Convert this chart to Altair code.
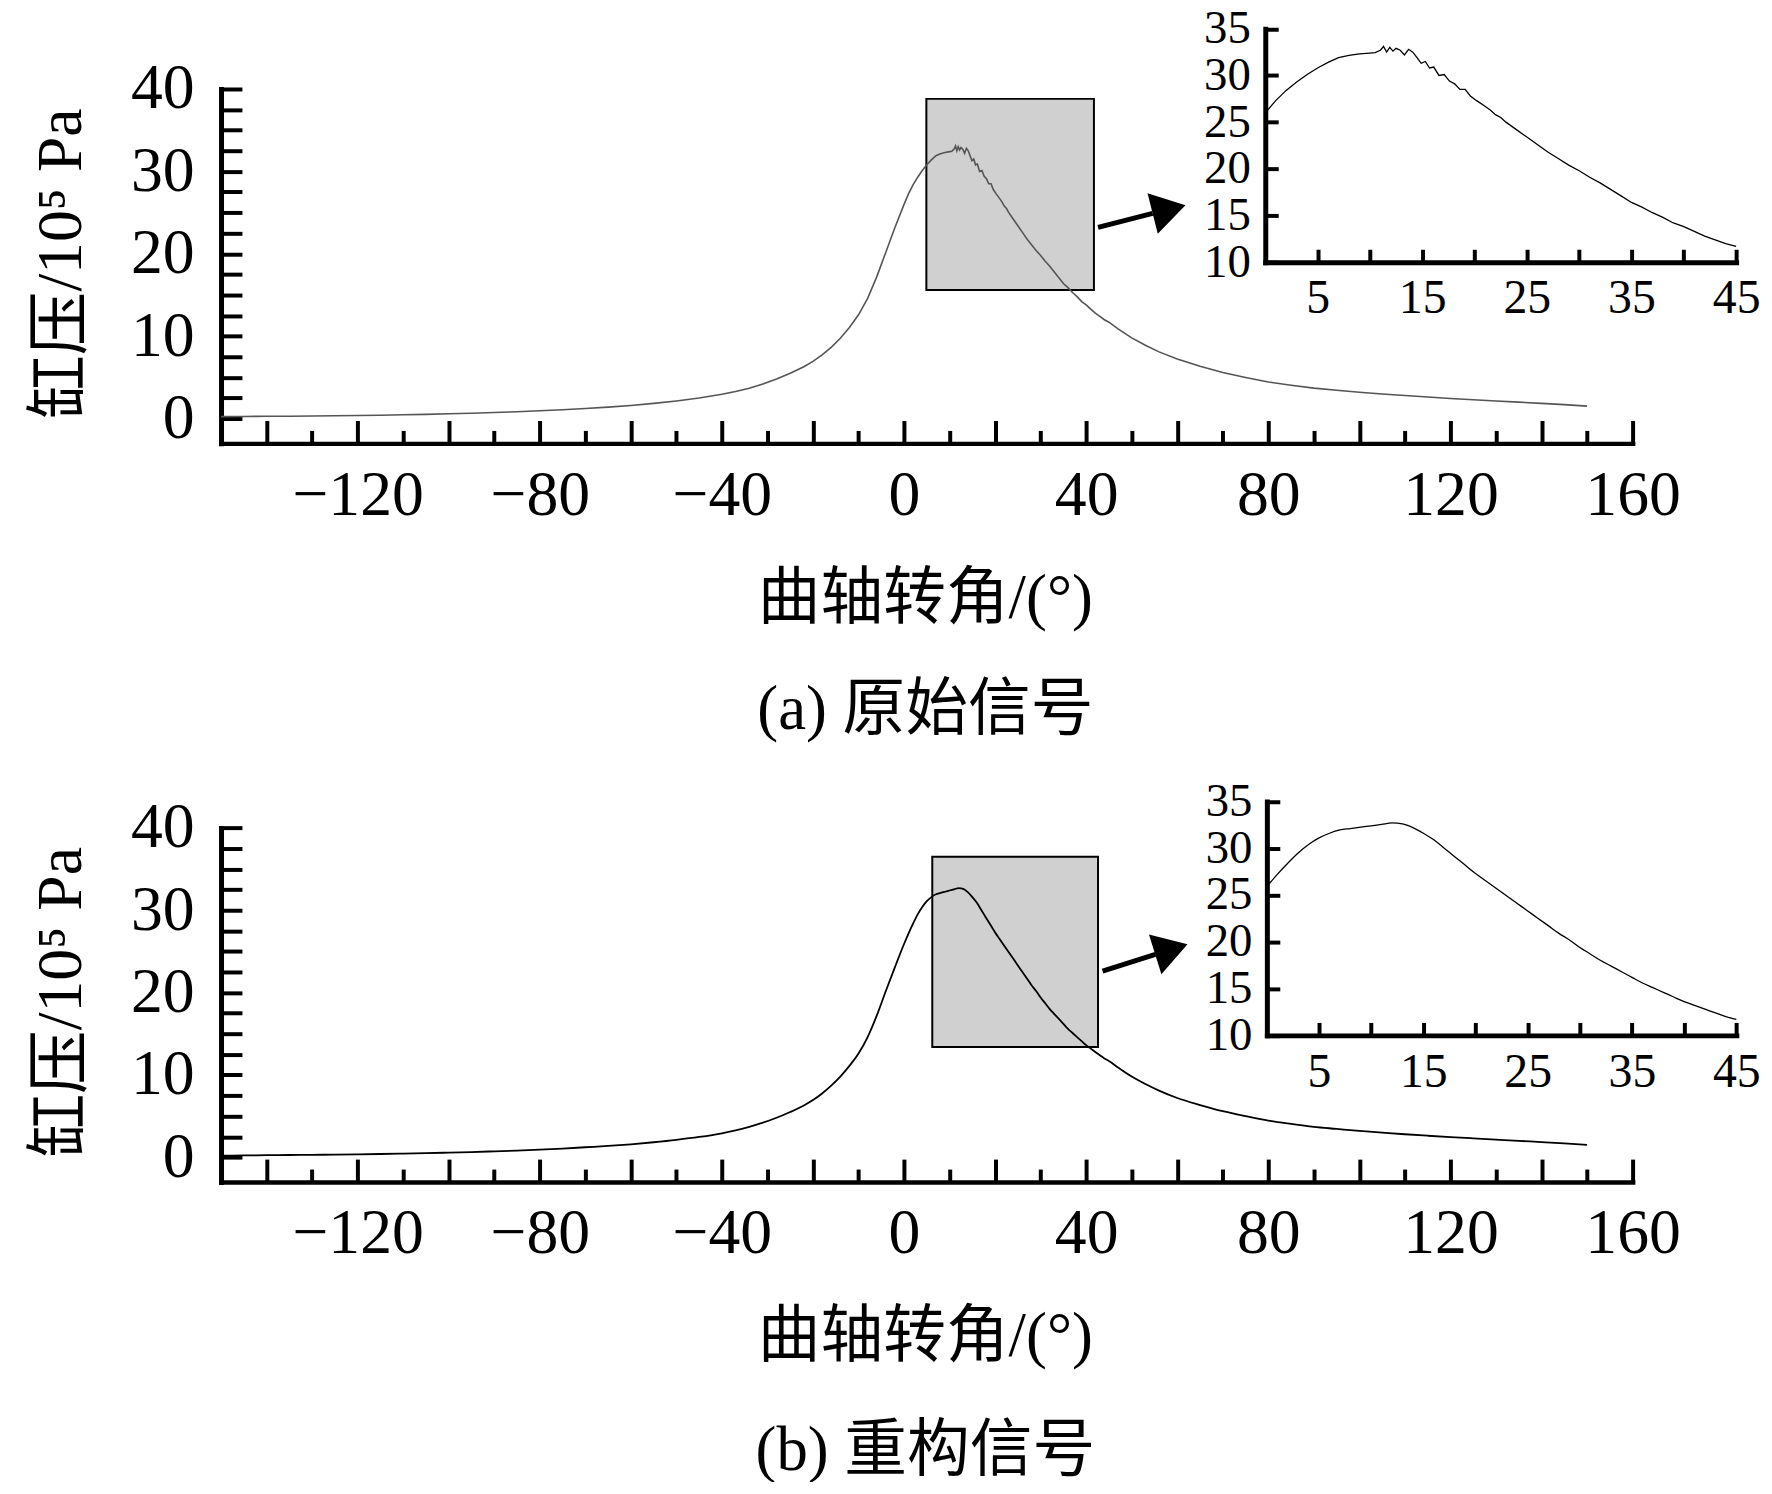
import altair as alt
import pandas as pd

# ---------------- data ----------------
orig_angle = [-150, -145, -140, -135, -130, -125, -120, -115, -110, -105, -100, -95, -90, -85,
              -80, -75, -70, -65, -60, -55, -50, -45, -40, -37, -34, -31, -28, -25, -22,
              -20, -18, -16, -14, -12, -10, -8, -6, -4, -2,
              0, 1, 2, 3, 4, 5, 6, 7, 8, 9, 10,
              10.5, 11, 11.3, 11.6, 11.9, 12.2, 12.5, 12.9, 13.3, 13.7, 14.1, 14.5, 14.9, 15.3,
              15.7, 16.1, 16.6, 17.1, 17.6, 18.1, 18.6, 19.1, 19.6, 20.2,
              21, 21.5, 22, 22.5, 23,
              24, 25, 26, 27, 28, 29, 30, 31, 32, 33, 34, 35, 36, 37, 38, 39, 40, 41, 42, 43, 44, 45,
              47, 50, 53, 56,
              60, 65, 70, 75, 80, 85, 90, 95, 100, 105, 110, 115, 120, 125, 130, 135, 140, 145, 150]
orig_pressure = [0.25, 0.27, 0.29, 0.3, 0.32, 0.35, 0.38, 0.42, 0.47, 0.52, 0.59, 0.66, 0.75, 0.84,
                 0.95, 1.08, 1.24, 1.4, 1.6, 1.85, 2.15, 2.5, 2.95, 3.3, 3.7, 4.2, 4.8, 5.5, 6.3,
                 6.95, 7.75, 8.65, 9.75, 11.05, 12.6, 14.6, 17.2, 20.2, 23.2,
                 26.0, 27.3, 28.4, 29.3, 30.1, 30.8, 31.4, 31.9, 32.15, 32.3, 32.4,
                 32.45, 32.7, 33.1, 32.5, 33.0, 32.6, 32.9, 32.7, 32.2, 32.8, 32.5, 31.9, 31.3, 31.5,
                 30.8, 30.9, 30.0, 30.1, 29.4, 29.1, 28.5, 28.5, 27.8, 27.3,
                 26.7, 26.3, 25.8, 25.5, 25.0,
                 24.2, 23.4, 22.6, 21.8, 21.1, 20.4, 19.8, 19.1, 18.5, 17.8, 17.1, 16.4, 15.9, 15.3,
                 14.8, 14.2, 13.8, 13.3, 12.8, 12.4, 12.0, 11.7,
                 10.9, 9.8, 8.9, 8.1,
                 7.25, 6.35, 5.6, 5.0, 4.45, 4.05, 3.7, 3.45, 3.2, 3.0, 2.8, 2.62, 2.45, 2.3, 2.15,
                 2.0, 1.85, 1.7, 1.52]

rec_angle = [-150, -145, -140, -135, -130, -125, -120, -115, -110, -105, -100, -95, -90, -85,
             -80, -75, -70, -65, -60, -55, -50, -45, -40, -37, -34, -31, -28, -25, -22,
             -20, -18, -16, -14, -12, -10, -8, -6, -4, -2,
             0, 1, 2, 3, 4, 5, 6, 7, 8, 9, 10, 11, 12, 13, 14, 15, 16, 17, 18, 19,
             20, 21, 22, 23, 24, 25, 26, 27, 28, 29, 30, 31, 32, 33, 34, 35, 36, 37, 38, 39,
             40, 41, 42, 43, 44, 45,
             47, 50, 53, 56,
             60, 65, 70, 75, 80, 85, 90, 95, 100, 105, 110, 115, 120, 125, 130, 135, 140, 145, 150]
rec_pressure = [0.2, 0.23, 0.26, 0.28, 0.3, 0.33, 0.36, 0.4, 0.45, 0.5, 0.57, 0.64, 0.73, 0.82,
                0.93, 1.06, 1.22, 1.38, 1.58, 1.83, 2.12, 2.47, 2.92, 3.28, 3.7, 4.2, 4.8, 5.5, 6.3,
                6.95, 7.75, 8.7, 9.8, 11.1, 12.6, 14.6, 17.2, 20.2, 23.1,
                25.9, 27.2, 28.4, 29.5, 30.4, 31.1, 31.6, 31.95, 32.1, 32.25,
                32.4, 32.55, 32.7, 32.6, 32.2, 31.6, 30.9, 30.0, 29.1, 28.2,
                27.3, 26.5, 25.7, 24.9, 24.1, 23.3, 22.5, 21.7, 20.9, 20.2,
                19.4, 18.7, 18.0, 17.4, 16.8, 16.2, 15.6, 15.1, 14.6, 14.1,
                13.6, 13.2, 12.8, 12.4, 12.0, 11.7,
                10.9, 9.8, 8.9, 8.1,
                7.2, 6.35, 5.6, 5.0, 4.45, 4.05, 3.7, 3.45, 3.2, 3.0, 2.8, 2.62, 2.45, 2.3, 2.15,
                2.0, 1.85, 1.7, 1.52]

assert len(orig_angle) == len(orig_pressure)
assert len(rec_angle) == len(rec_pressure)

main_x_domain = [-150, 160]
main_y_domain = [-3, 40]
inset_x_domain = [0, 45]
inset_y_domain = [10, 35]

main_x_major_ticks = [-140, -120, -100, -80, -60, -40, -20, 0, 20, 40, 60, 80, 100, 120, 140, 160]
main_x_minor_ticks = [-130, -110, -90, -70, -50, -30, -10, 10, 30, 50, 70, 90, 110, 130, 150]
main_y_ticks = [0, 2.5, 5, 7.5, 10, 12.5, 15, 17.5, 20, 22.5, 25, 27.5, 30, 32.5, 35, 37.5, 40]
inset_x_ticks = [5, 10, 15, 20, 25, 30, 35, 40, 45]
inset_y_ticks = [10, 15, 20, 25, 30, 35]

# zoom boxes: x, x2, y, y2 (data units of the main plot)
zoom_box_a = [4.9, 41.7, 15.6, 38.8]
zoom_box_b = [6.2, 42.6, 13.4, 36.5]
# arrows: tail x, tail y, shaft end x, shaft end y ; head centre x, y
arrow_a = [42.6, 23.2, 54.6, 24.9]
arrow_head_a = [58.2, 25.4]
arrow_b = [43.6, 22.6, 55.2, 24.65]
arrow_head_b = [58.7, 25.25]

y_title = "缸压/10⁵ Pa"
x_title = "曲轴转角/(°)"
caption_a = "(a) 原始信号"
caption_b = "(b) 重构信号"

# ---------------- layout / style ----------------
W, H = 1764, 1474
FONT = "Liberation Serif, Noto Sans CJK SC"
ARROW_PATH = "M1,0L-1,-1.235L-1,1.235Z"
X0, X1 = 214, 1632


def ax(**kw):
    base = dict(grid=False, domainColor="black", tickColor="black", labelColor="black",
                titleColor="black", labelFont=FONT, titleFont=FONT, labelFlush=False,
                labelOverlap=False, titleFontWeight="normal", tickCap="butt",
                domainCap="square")
    base.update(kw)
    return alt.Axis(**base)


def panel(df, line_color, line_width, interp, box, arrow, head, head_angle, caption, g):
    xs = alt.Scale(domain=main_x_domain, range=[X0, X1], nice=False, zero=False)
    ys = alt.Scale(domain=main_y_domain, range=[g["y0"], g["y40"]], nice=False, zero=False)
    ix = alt.Scale(domain=inset_x_domain, range=[g["ix0"], g["ix1"]], nice=False, zero=False)
    iy = alt.Scale(domain=inset_y_domain, range=[g["iy10"], g["iy35"]], nice=False, zero=False)

    ax_major = ax(orient="top", offset=-g["y0"], values=main_x_major_ticks, tickSize=23,
                  tickWidth=4, domainWidth=4.5,
                  labelExpr="datum.value % 40 === 0 ? datum.label : ''",
                  labelFontSize=64, labelBaseline="top", labelAlign="center", labelPadding=-43,
                  title=x_title, titleFontSize=63, titleX=921, titleY=g["xt"],
                  titleAlign="center", titleBaseline="middle")
    ax_minor = ax(orient="top", offset=-g["y0"], values=main_x_minor_ticks, tickSize=13,
                  tickWidth=4, domain=False, labels=False,
                  title=caption, titleFontSize=63, titleX=921, titleY=g["cap"],
                  titleAlign="center", titleBaseline="middle")
    ax_y = ax(orient="right", offset=X0 - W, values=main_y_ticks, tickSize=21, tickWidth=4,
              domainWidth=5, labelExpr="datum.value % 10 === 0 ? datum.label : ''",
              labelFontSize=64, labelAlign="right", labelBaseline="middle", labelPadding=-48,
              title=y_title, titleFontSize=64, titleAngle=270, titleX=-160, titleY=g["yt"],
              titleAlign="center", titleBaseline="middle")
    ax_ix = ax(orient="top", offset=-g["iy10"], values=inset_x_ticks, tickSize=13, tickWidth=4,
               domainWidth=5, labelExpr="datum.value % 10 === 5 ? datum.label : ''",
               labelFontSize=48, labelBaseline="top", labelAlign="center", labelPadding=-26,
               title="")
    ax_iy = ax(orient="right", offset=g["ix0"] - W, values=inset_y_ticks, tickSize=13,
               tickWidth=4, domainWidth=5, labelFontSize=47, labelAlign="right",
               labelBaseline="middle", labelPadding=-28, title="")

    box_df = pd.DataFrame({"x": [box[0]], "x2": [box[1]], "y": [box[2]], "y2": [box[3]]})
    rect = alt.Chart(box_df).mark_rect(fill="#d0d0d0", stroke="black", strokeWidth=2).encode(
        x=alt.X("x:Q", scale=xs, axis=ax_minor), x2="x2:Q",
        y=alt.Y("y:Q", scale=ys, axis=None), y2="y2:Q")

    line = alt.Chart(df).mark_line(color=line_color, strokeWidth=line_width,
                                   interpolate=interp).encode(
        x=alt.X("angle:Q", scale=xs, axis=ax_major),
        y=alt.Y("pressure:Q", scale=ys, axis=ax_y))

    arrow_df = pd.DataFrame({"x": [arrow[0]], "y": [arrow[1]], "x2": [arrow[2]], "y2": [arrow[3]]})
    shaft = alt.Chart(arrow_df).mark_rule(color="black", strokeWidth=5).encode(
        x=alt.X("x:Q", scale=xs, axis=None), y=alt.Y("y:Q", scale=ys, axis=None),
        x2="x2:Q", y2="y2:Q")

    head_df = pd.DataFrame({"x": [head[0]], "y": [head[1]]})
    tip = alt.Chart(head_df).mark_point(shape=ARROW_PATH, filled=True, color="black",
                                        opacity=1, size=1156, angle=head_angle,
                                        strokeWidth=0).encode(
        x=alt.X("x:Q", scale=xs, axis=None), y=alt.Y("y:Q", scale=ys, axis=None))

    inset = alt.Chart(df).transform_filter(
        "datum.angle >= 0 && datum.angle <= 45"
    ).mark_line(color="black", strokeWidth=1.3, interpolate=interp).encode(
        x=alt.X("angle:Q", scale=ix, axis=ax_ix),
        y=alt.Y("pressure:Q", scale=iy, axis=ax_iy))

    return [rect, line, shaft, tip, inset]


df_orig = pd.DataFrame({"angle": orig_angle, "pressure": orig_pressure})
df_rec = pd.DataFrame({"angle": rec_angle, "pressure": rec_pressure})

geo_a = dict(y0=434, y40=78, xt=156, cap=267, yt=253,
             ix0=1263, ix1=1736, iy10=252, iy35=17.5)
geo_b = dict(y0=1176, y40=820.3, xt=155, cap=270, yt=995,
             ix0=1264.6, ix1=1736.2, iy10=1028.7, iy35=793.7)

layers = (panel(df_orig, "#555555", 1.6, "linear", zoom_box_a, arrow_a, arrow_head_a, 345.8,
                caption_a, geo_a)
          + panel(df_rec, "black", 1.8, "monotone", zoom_box_b, arrow_b, arrow_head_b, 342.7,
                  caption_b, geo_b))

chart = alt.layer(*layers).resolve_scale(
    x="independent", y="independent"
).resolve_axis(
    x="independent", y="independent"
).properties(
    width=W, height=H, autosize=alt.AutoSizeParams(type="none"), padding=0
).configure_view(strokeWidth=0)

chart.save("out.html", embed_options={"renderer": "svg", "actions": False})
